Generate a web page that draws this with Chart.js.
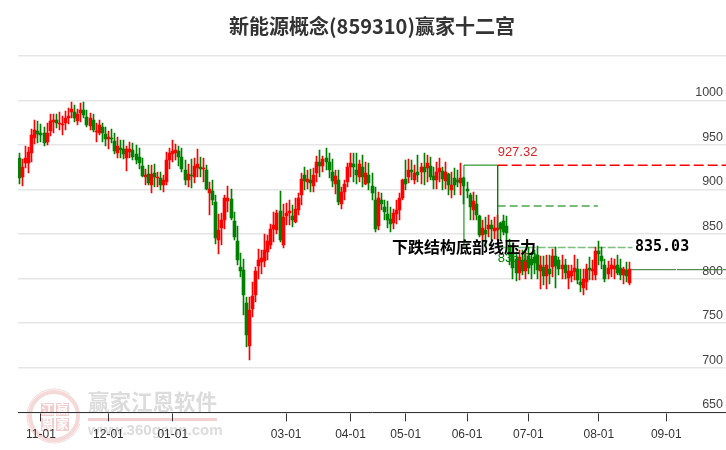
<!DOCTYPE html>
<html lang="zh-CN">
<head>
    <meta charset="UTF-8">
    <title>新能源概念(859310)赢家十二宫</title>
    <style>
        html, body { margin: 0; padding: 0; background: #fff; }
        #grafico { display: block; }
    </style>
</head>
<body>
    <canvas id="grafico" width="726" height="450"></canvas>

    <script src="https://cdn.jsdelivr.net/npm/chart.js"></script>
    <script>
    const titulo = "新能源概念(859310)赢家十二宫";
    const totalCategorias = 231;
    const tickPosicoes = [7, 29, 50, 87, 108, 126, 146, 166, 189, 211];
    const tickDatas = ["11-01", "12-01", "01-01", "03-01", "04-01", "05-01", "06-01", "07-01", "08-01", "09-01"];

    const opens = [
        934.8,913.5,929.2,930,941.2,958,965.2,963.7,962.9,953.6,
        965.9,975.3,977.9,973.8,972.7,974.9,979.8,987.3,987.3,977.1,
        985.4,989.1,981.6,971.5,977.9,964.8,963.7,970.4,961.8,956.9,
        957.3,954.3,941.2,946.1,944.9,935.6,942,944.1,939.6,935.9,
        926.2,914.2,917.2,904.8,918.3,913,913.4,904.8,908.6,932.9,
        939.6,940.4,943,935.9,922.4,910.4,916,914.2,924.3,925.4,
        922.8,921.7,896.2,898.1,885.4,843.8,857.3,866.3,887.2,889.1,
        864.4,841.9,813.5,809.4,773,724,766.3,781.3,814.2,818.7,
        819.8,829.9,837.4,856.2,855,876,838.2,870.4,873.8,870,
        863.7,877.5,893.6,915.7,908.6,910.5,904.1,918,930.3,926.6,
        934.8,930.3,919.1,906,911.2,883.5,897.4,908.6,925.4,928.4,
        922.4,914.2,925.4,906.7,916.8,903.7,888.7,858.8,888.7,879.8,
        872.3,866.6,862.5,872.3,877.5,890.6,912.3,914.2,921.7,910.5,
        919.8,919.1,924.7,923.6,926.2,914.9,911.2,919.1,920.6,909.7,
        917.2,899.2,913.1,910.5,907.5,913.1,901.1,893.6,877.5,884.2,
        870,849.4,854.3,856.2,859.9,853.5,854.3,862.9,864.4,858.8,
        838,830,822,806,821,809,825,822,824,826.2,
        808.6,813.1,803,811.2,813.1,825.5,820.6,811.2,815,800.8,
        803,807.5,811.2,796.3,789.5,796.3,812.4,808.6,804.5,830.7,
        825.1,815,805.6,811.2,810.5,815.7,812.4,803.8,810.1,795.5
    ];
    const closes = [
        912.4,924.7,934.8,942,960.7,966.7,961.8,961.4,952.4,963.7,
        976.4,977.9,974.2,974.5,973.4,979.8,982.4,990.3,979.8,984.6,
        989.1,983.5,972.7,979.8,966.7,965.5,972.3,962.9,956.9,958.4,
        956.5,943.4,948.7,944.2,939.3,944.9,945,936.6,933.6,929.9,
        915.3,916,907.4,917.9,914.2,914.2,904.8,910.4,933.6,941.5,
        943.4,944.1,936.6,922.8,910.4,917.9,915.3,926.2,928.4,923.5,
        923.5,901,900.3,888,845.7,854.3,866.3,889.9,889.9,868.1,
        846.8,821.3,808.6,781.3,737,765.2,780.1,808.2,821.3,823.6,
        831.8,841.9,856.2,859.9,874.1,843,869.3,874.1,875.6,865.5,
        878.6,889.9,912.3,909.3,912.3,907.5,916.1,930.3,926.6,934,
        931,922.4,909.3,914.9,885.4,897.4,906.7,924.7,929.9,925.4,
        916.1,928.4,913.5,918,907.5,896.2,856.2,891,883.5,874.5,
        865.5,861.8,874.1,877.5,889.9,911.2,906.7,922.4,919.8,918,
        916.1,924.7,919.1,929.2,914.2,910.5,919.8,923.6,912.3,919.8,
        904.8,904.8,904.8,908.6,913.1,904.1,898.5,880.5,886.9,871.1,
        848.7,857.3,850.5,859.9,856.2,857.3,857.3,856.2,852.4,851.3,
        826,812,806,824,808,821,812,815,818,809.4,
        815.7,803,815.7,804.9,825.1,814.2,811.2,815.7,806.4,808.3,
        808.3,812.4,798.1,792.5,800,811.2,810.1,811.2,830.7,827.4,
        819.9,800,812,815,814.2,806.8,804.5,811.2,803,810.5
    ];
    const highs = [
        940.4,933.7,948.7,948,967.4,977.9,976.8,973.4,970.4,974.2,
        984.6,984.6,984.6,986.5,982.4,988,991,998.5,994.7,990.3,
        996.6,997.7,989.1,986.1,984.6,974.2,977.9,974.2,969.7,965.5,
        967.8,963.7,958.4,955.4,955.4,948.7,953.6,951.6,949.7,946,
        934.8,923.5,927.3,927.3,929.1,919.8,919.8,916,942.3,946,
        955.4,950.5,949,947.1,932.9,929.1,934,934.8,945.3,936.6,
        934.8,928,908.6,910.4,893.6,873,873.8,893.6,903.7,900.4,
        874.9,858.8,829.2,821.7,779.4,779.4,796.2,813.1,833.7,831.8,
        850.5,848.7,861.8,874.9,876.8,898.1,884.2,885,888,882.4,
        890.6,896.6,918,924.7,921.7,922.8,923.6,937.4,944.2,937.8,
        946,940.4,933.7,921.7,921.7,903,910.5,929.9,941.5,940.4,
        940.4,932.9,938.5,931,929.9,918,903,897.4,895.5,888,
        886.9,880.5,878.6,888.7,895.5,912.3,932.9,933.7,932.9,927.3,
        938.5,929.2,940.4,938.5,936.7,924.7,931,934.8,925.4,931,
        918,919.8,923.6,921.7,929.2,914.2,908.6,895.5,897.4,893.6,
        871.1,865.5,869.3,871.1,865.5,869.3,871.1,863.6,871.1,870,
        845,836,830,832,832,830,835,830,832,837,
        825,825.5,826,826,833.7,835.6,824.4,826,822.5,815,
        815,826,822.5,811.2,811,816.9,824.4,820.6,835.6,842,
        835.6,822.5,819.5,823.2,822.5,826.2,821.7,813,818.7,818.7
    ];
    const lows = [
        906,903.7,923.6,918.7,931.1,950.9,952.4,952.8,948.7,949.8,
        959.9,963.7,968.5,966.7,961,966.7,973.4,979.8,975.3,972.3,
        976,979.8,970.4,966.7,964.8,953.6,961,953.6,949,945.3,
        951.7,939.7,935.6,934.8,933.7,920.6,935,932.9,929.1,923.5,
        914.2,904.8,904.8,896.2,902.9,902.9,899.2,897.3,905,923.5,
        931,932.9,926.2,919.8,904.8,902.9,901.8,907.8,914.2,914.2,
        908.6,899.9,871.1,882.3,839.3,828.1,837.4,856.2,874.9,865.5,
        843,815,801.9,758.8,723.2,708.2,756.9,773.8,800,805.6,
        813.1,820.6,833.7,841.2,850.5,841.2,834.8,859.9,859.9,858,
        862.9,871.1,882.4,899.2,901.1,897.4,897.4,908.6,914.2,919.8,
        921.7,913.1,903,894.7,882.4,878.6,888,903,913.5,908.6,
        906.7,908.6,903,904.8,899.2,888,852.4,855,876.8,865.5,
        857.3,852.4,856.2,861.8,865.5,888.7,899.2,907.5,910.5,906.7,
        908.6,906.7,904.8,908.6,910.5,901.1,901.1,908.6,899.2,901.1,
        893.6,889.9,893.6,903,893.6,884.2,889.9,865.5,865.5,865.5,
        846.8,843,835.6,846.8,843,845,843,843,848.7,841,
        815,800,797,798,804,800,805,800,805,800,
        788.8,792.5,788,794.4,801.9,790,803.7,800,800,788.8,
        796,798,794.4,785,782,787,798.1,798,798,815,
        811.2,796.3,800,801.9,800,803.8,798,794.4,796.3,793.3
    ];

    // linhas do padrao (indice da vela / valor)
    const caixaX = [145, 145, 156, 156];
    const caixaY = [835.03, 927.32, 927.32, 835.03];
    const linhaVermelhaX = [156, 230.5];
    const linhaVermelhaY = [927.32, 927.32];
    const linhaMeioX = [156, 188.7];
    const linhaMeioY = [881.5, 881.5];
    const linhaBaseX = [156, 200];
    const linhaBaseY = [835.03, 835.03];
    const linhaFinalX = [199.5, 230.5];
    const linhaFinalY = [810, 810];

    const textoPreco = "927.32";
    const textoBase = "835.03";
    const textoPadrao = "下跌结构底部线压力";

    const vermelho = "#ff0000";
    const verde = "#008000";

    const rotulos = [];
    for (let i = 0; i < totalCategorias; i++) {
        const p = tickPosicoes.indexOf(i);
        rotulos.push(p >= 0 ? tickDatas[p] : "");
    }

    function corVela(ctx) {
        return closes[ctx.dataIndex] >= opens[ctx.dataIndex] ? vermelho : verde;
    }

    function pontos(xs, ys) {
        return xs.map(function(x, i) { return { x: x, y: ys[i] }; });
    }

    // deixa as velas sem borrado: encosta as barras no pixel
    const velasNitidas = {
        id: "velasNitidas",
        afterDatasetsUpdate(chart) {
            [0, 1].forEach(function(n) {
                chart.getDatasetMeta(n).data.forEach(function(el) {
                    el.x = Math.floor(el.x) + 0.5;
                    el.y = Math.round(el.y);
                    el.base = Math.round(el.base);
                    if (el.y === el.base) el.base = el.y + 1;
                });
            });
        }
    };

    const marcaDagua = {
        id: "marcaDagua",
        beforeDraw(chart) {
            const c = chart.ctx;
            c.save();
            c.strokeStyle = "#f5d8d8";
            c.lineWidth = 4;
            c.beginPath();
            c.arc(54, 416, 24, 0, Math.PI * 2);
            c.stroke();
            c.lineWidth = 1;
            c.beginPath();
            c.arc(54, 416, 27, 0.3, Math.PI * 1.7);
            c.stroke();
            c.fillStyle = "#f2cdcd";
            c.fillRect(41, 403, 13, 13);
            c.fillRect(56, 403, 13, 13);
            c.fillRect(41, 418, 13, 13);
            c.fillRect(56, 418, 13, 13);
            c.fillStyle = "#ffffff";
            c.font = "bold 12px 'Noto Sans CJK SC'";
            c.textAlign = "center";
            c.textBaseline = "middle";
            c.fillText("江", 47.5, 409.5);
            c.fillText("赢", 62.5, 409.5);
            c.fillText("恩", 47.5, 424.5);
            c.fillText("家", 62.5, 424.5);

            c.fillStyle = "#dcdcdc";
            c.font = "bold 21.5px 'Noto Sans CJK SC'";
            c.textAlign = "left";
            c.fillText("赢家江恩软件", 88, 402);
            c.fillStyle = "#f3d0d0";
            c.fillRect(88, 418, 129, 3);
            c.fillStyle = "#dcdcdc";
            c.font = "bold 15px 'Liberation Sans'";
            c.fillText("www.360gann.com", 88, 431);
            c.restore();
        }
    };

    const textos = {
        id: "textos",
        afterDatasetsDraw(chart) {
            const c = chart.ctx;
            const xi = chart.scales.xi;
            const y = chart.scales.y;
            c.save();
            c.textBaseline = "middle";
            c.textAlign = "left";
            c.fillStyle = "#dd2222";
            c.font = "13px 'Liberation Sans'";
            c.fillText(textoPreco, xi.getPixelForValue(156), y.getPixelForValue(927.32) - 13);
            c.fillStyle = verde;
            c.font = "13px 'Liberation Sans'";
            c.fillText(textoBase, xi.getPixelForValue(156), y.getPixelForValue(835.03) + 11);
            c.fillStyle = "#000";
            c.font = "bold 15px 'DejaVu Sans Mono'";
            c.fillText(textoBase, xi.getPixelForValue(200.8), y.getPixelForValue(835.03));
            c.font = "bold 16px 'Noto Sans CJK SC'";
            c.fillText(textoPadrao, 392, y.getPixelForValue(835.03));
            c.restore();
        }
    };

    new Chart(document.getElementById("grafico"), {
        type: "bar",
        data: {
            labels: rotulos,
            datasets: [
                {
                    label: "pavio",
                    data: lows.map(function(l, i) { return [l, highs[i]]; }),
                    backgroundColor: corVela,
                    barThickness: 1,
                    grouped: false,
                    order: 5
                },
                {
                    label: "corpo",
                    data: opens.map(function(o, i) { return [o, closes[i]]; }),
                    backgroundColor: corVela,
                    barThickness: 3,
                    minBarLength: 1,
                    grouped: false,
                    order: 4
                },
                {
                    type: "line", label: "caixa", xAxisID: "xi",
                    data: pontos(caixaX, caixaY),
                    borderColor: verde, borderWidth: 1, pointRadius: 0, order: 3
                },
                {
                    type: "line", label: "topo", xAxisID: "xi",
                    data: pontos(linhaVermelhaX, linhaVermelhaY),
                    borderColor: vermelho, borderWidth: 1.5, borderDash: [10, 4], pointRadius: 0, order: 2
                },
                {
                    type: "line", label: "meio", xAxisID: "xi",
                    data: pontos(linhaMeioX, linhaMeioY),
                    borderColor: "rgba(0, 128, 0, 0.7)", borderWidth: 1.5, borderDash: [8, 4], pointRadius: 0, order: 2
                },
                {
                    type: "line", label: "base", xAxisID: "xi",
                    data: pontos(linhaBaseX, linhaBaseY),
                    borderColor: "rgba(0, 128, 0, 0.5)", borderWidth: 1.5, borderDash: [8, 2], pointRadius: 0, order: 2
                },
                {
                    type: "line", label: "final", xAxisID: "xi",
                    data: pontos(linhaFinalX, linhaFinalY),
                    borderColor: "#2f6f2f", borderWidth: 1, borderDash: [45, 1], pointRadius: 0, order: 2
                }
            ]
        },
        options: {
            responsive: false,
            animation: false,
            layout: { padding: { left: 18, right: 0, top: 0, bottom: 0 } },
            plugins: {
                legend: { display: false },
                tooltip: { enabled: false },
                title: {
                    display: true,
                    text: titulo,
                    color: "#333",
                    font: { size: 20, weight: "bold", family: "'Noto Sans CJK SC'" },
                    padding: { top: 14, bottom: 17.8 }
                }
            },
            scales: {
                x: {
                    offset: true,
                    afterBuildTicks(axis) {
                        axis.ticks = axis.ticks.filter(function(t) { return rotulos[t.value] !== ""; });
                    },
                    afterFit(axis) { axis.height = 37.7; },
                    ticks: {
                        autoSkip: false,
                        maxRotation: 0,
                        color: "#333",
                        padding: 6,
                        font: { size: 12, family: "'Liberation Sans'" }
                    },
                    grid: { offset: false, drawOnChartArea: false, tickLength: 9, tickColor: "#333" },
                    border: { color: "#333" }
                },
                xi: {
                    type: "linear",
                    display: false,
                    offset: false,
                    min: -0.5,
                    max: totalCategorias - 0.5
                },
                y: {
                    position: "right",
                    min: 650,
                    max: 1050,
                    afterFit(axis) { axis.width = 0; },
                    ticks: {
                        stepSize: 50,
                        mirror: true,
                        padding: -3,
                        labelOffset: -7.5,
                        color: "#444",
                        font: { size: 12.5, family: "'Liberation Sans'" },
                        callback(v) { return v === 1050 ? "" : v; }
                    },
                    grid: { color: "#e6e6e6", lineWidth: 1.5, drawTicks: false },
                    border: { display: false }
                }
            }
        },
        plugins: [marcaDagua, velasNitidas, textos]
    });
    </script>
</body>
</html>
